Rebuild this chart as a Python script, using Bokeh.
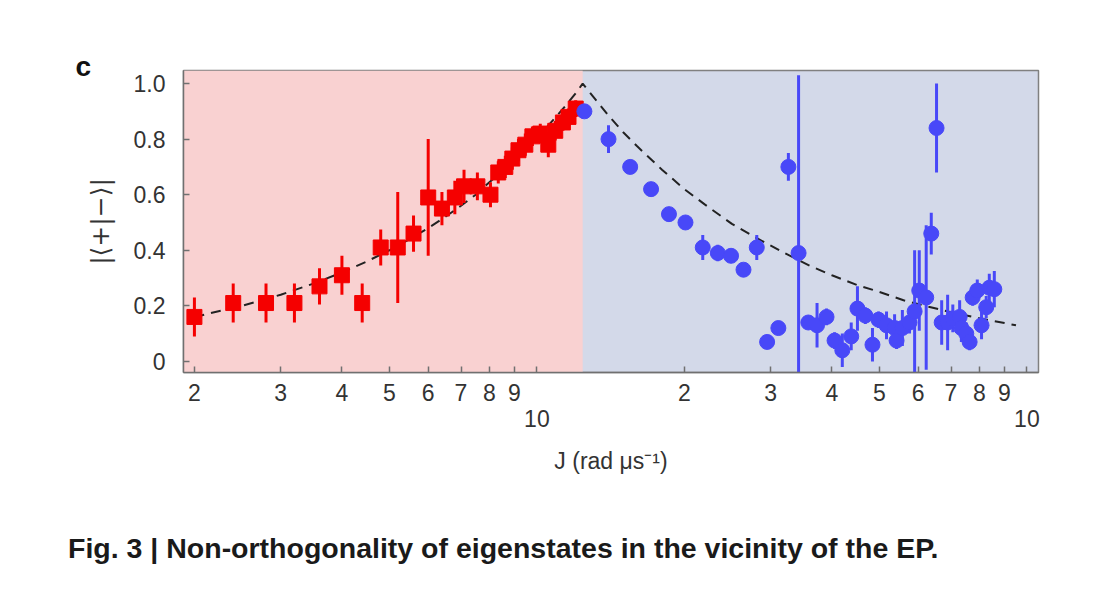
import numpy as np
from bokeh.plotting import figure
from bokeh.models import Range1d, FixedTicker, BoxAnnotation, LogAxis, Div
from bokeh.layouts import column
from bokeh.embed import file_html
from bokeh.resources import INLINE

# ---------------- data ----------------
J_EP = 12.4

J_red = [2.0, 2.4, 2.8, 3.2, 3.6, 4.0, 4.4, 4.8, 5.2, 5.6, 6.0, 6.4, 6.8, 7.1,
         7.56, 8.04, 8.34, 8.62, 8.91, 9.17, 9.47, 9.79, 10.16, 10.55, 10.9,
         11.3, 11.6, 12.0]
v_red = [0.16, 0.21, 0.21, 0.21, 0.27, 0.31, 0.21, 0.41, 0.41, 0.46, 0.59,
         0.55, 0.59, 0.63, 0.63, 0.60, 0.68, 0.70, 0.73, 0.76, 0.78, 0.81,
         0.82, 0.78, 0.83, 0.86, 0.88, 0.91]
e_red = [0.07, 0.07, 0.07, 0.07, 0.065, 0.07, 0.07, 0.065, 0.20, 0.065, 0.21,
         0.06, 0.06, 0.06, 0.05, 0.045, 0.04, 0.04, 0.04, 0.04, 0.04, 0.035,
         0.035, 0.045, 0.035, 0.03, 0.03, 0.03]

J_blue = [12.5, 14.0, 15.5, 17.1, 18.6, 20.1, 21.8, 23.4, 24.9, 26.4,
          28.1, 29.5, 31.1, 32.6, 34.2, 35.8, 37.3, 39.0, 40.5, 42.0,
          43.8, 45.1, 46.8, 48.4, 49.8, 51.7, 53.7, 54.2, 55.7, 57.6,
          59.0, 60.3, 62.3, 63.8, 65.4, 67.0, 68.9, 70.6, 72.9, 73.5,
          75.2, 76.4, 77.5, 79.2, 80.8, 82.6, 83.8, 85.8]
v_blue = [0.90, 0.80, 0.70, 0.62, 0.53, 0.50, 0.41, 0.39, 0.38, 0.33,
          0.41, 0.07, 0.12, 0.70, 0.39, 0.14, 0.13, 0.16, 0.075, 0.04,
          0.09, 0.19, 0.165, 0.06, 0.15, 0.13, 0.12, 0.075, 0.12, 0.14,
          0.18, 0.255, 0.23, 0.46, 0.84, 0.14, 0.14, 0.155, 0.16, 0.12,
          0.10, 0.07, 0.23, 0.255, 0.13, 0.195, 0.265, 0.26]
e_blue = [0.02, 0.05, 0.02, 0.02, 0.02, 0.02, 0.045, 0.03, 0.02, 0.02,
          0.045, 0.02, 0.02, 0.05, 0.64, 0.02, 0.08, 0.03, 0.03, 0.06,
          0.05, 0.08, 0.03, 0.06, 0.03, 0.05, 0.05, 0.03, 0.065, 0.04,
          0.22, 0.145, 0.26, 0.075, 0.16, 0.08, 0.10, 0.05, 0.06, 0.05,
          0.04, 0.03, 0.03, 0.04, 0.05, 0.04, 0.05, 0.065]

# theory (dashed) curve
J_theory = [2.0, 2.5, 3.0, 3.5, 4.0, 4.5, 5.0, 5.5, 6.0, 6.5, 7.0, 7.5, 8.0,
            8.5, 9.0, 9.5, 10.0, 10.5, 11.0, 11.5, 12.0, 12.4,
            13.0, 14.0, 15.0, 16.0, 18.0, 20.0, 22.0, 25.0, 28.0, 32.0, 36.0,
            40.0, 45.0, 50.0, 56.0, 63.0, 70.0, 80.0, 90.0, 95.0]
v_theory = [0.16, 0.20, 0.24, 0.28, 0.32, 0.36, 0.40, 0.44, 0.48, 0.52, 0.56,
            0.60, 0.645, 0.685, 0.725, 0.765, 0.805, 0.845, 0.885, 0.925,
            0.965, 1.0,
            0.955, 0.885, 0.825, 0.775, 0.69, 0.62, 0.565, 0.495, 0.445, 0.39,
            0.345, 0.31, 0.275, 0.25, 0.22, 0.197, 0.177, 0.155, 0.138, 0.13]

x_ticks = [2, 3, 4, 5, 6, 7, 8, 9, 10, 20, 30, 40, 50, 60, 70, 80, 90, 100]
x_tick_labels = ["2", "3", "4", "5", "6", "7", "8", "9", "",
                 "2", "3", "4", "5", "6", "7", "8", "9", ""]
decade_ticks = [10, 100]
decade_labels = ["10", "10"]
y_ticks = [0, 0.2, 0.4, 0.6, 0.8, 1.0]
y_tick_labels = ["0", "0.2", "0.4", "0.6", "0.8", "1.0"]

caption_text = "Fig. 3 | Non-orthogonality of eigenstates in the vicinity of the EP."

# ---------------- figure ----------------
FONT = "Liberation Sans"
TXT = "#333333"

p = figure(width=1099, height=500, x_axis_type="log",
           x_range=Range1d(1.90, 105.6), y_range=Range1d(-0.04, 1.047),
           output_backend="svg", toolbar_location=None,
           min_border_left=183, min_border_right=61,
           min_border_top=70, min_border_bottom=128)
p.background_fill_color = "#d3d9e9"
p.border_fill_color = "white"
p.outline_line_color = "#808080"
p.outline_line_width = 1.5
p.grid.visible = False

p.add_layout(BoxAnnotation(right=J_EP, fill_color="#f9d1d1", fill_alpha=1.0,
                           line_alpha=0, level="underlay"))

# axes
p.xaxis.ticker = FixedTicker(ticks=x_ticks)
p.xaxis.major_label_overrides = {t: l for t, l in zip(x_ticks, x_tick_labels)}
p.yaxis.ticker = FixedTicker(ticks=y_ticks)
p.yaxis.major_label_overrides = {t: l for t, l in zip(y_ticks, y_tick_labels)}

# second (lower) axis carrying the decade labels and the axis title
dec_axis = LogAxis(ticker=FixedTicker(ticks=decade_ticks),
                   major_label_overrides={t: l for t, l in zip(decade_ticks, decade_labels)})
p.add_layout(dec_axis, "below")

for ax in (p.xaxis[0], p.yaxis[0], dec_axis):
    ax.minor_tick_line_color = None
    ax.major_tick_in = 6
    ax.major_tick_out = 0
    ax.major_tick_line_color = "#707070"
    ax.major_tick_line_width = 1.5
    ax.axis_line_color = "#707070"
    ax.axis_line_width = 1.5
    ax.major_label_text_font = FONT
    ax.major_label_text_font_size = "23px"
    ax.major_label_text_color = TXT
    ax.axis_label_text_font = FONT
    ax.axis_label_text_font_size = "23px"
    ax.axis_label_text_font_style = "normal"
    ax.axis_label_text_color = TXT
p.xaxis[0].major_label_standoff = 11
p.yaxis[0].major_label_standoff = 18
p.yaxis[0].axis_label = "|⟨+|−⟩|"
p.yaxis[0].axis_label_text_font = "DejaVu Sans"
p.yaxis[0].axis_label_text_font_size = "25px"
p.yaxis[0].axis_label_standoff = 16

dec_axis.axis_line_color = None
dec_axis.major_tick_line_color = None
dec_axis.major_label_standoff = 6
dec_axis.axis_label = "J (rad μs⁻¹)"
dec_axis.axis_label_standoff = 18

# theory curve
p.line(J_theory, v_theory, line_color="#222222", line_width=2, line_dash="10 7")

# red data
r_lo = np.array(v_red) - np.array(e_red)
r_hi = np.array(v_red) + np.array(e_red)
p.segment(x0=J_red, y0=r_lo, x1=J_red, y1=r_hi, line_color="#f50000", line_width=3)
p.scatter(J_red, v_red, marker="square", size=15, fill_color="#f50000",
          line_color="#f50000")

# blue data
b_lo = np.array(v_blue) - np.array(e_blue)
b_hi = np.array(v_blue) + np.array(e_blue)
p.segment(x0=J_blue, y0=b_lo, x1=J_blue, y1=b_hi, line_color="#4848f8", line_width=3)
p.scatter(J_blue, v_blue, marker="circle", size=15, fill_color="#4848f8",
          line_color="#4848f8")

# panel letter
p.title.text = "c"
p.title.align = "left"
p.title.offset = -108
p.title.standoff = -23
p.title.text_font = FONT
p.title.text_font_size = "28px"
p.title.text_font_style = "bold"
p.title.text_color = "#111111"

# caption
cap = Div(text=caption_text, width=1050, height=40, margin=(31, 0, 0, 68),
          styles={"font-family": "Liberation Sans", "font-size": "28.5px",
                  "font-weight": "bold", "color": "#1a1a1a",
                  "white-space": "nowrap", "line-height": "34px"})

layout = column(p, cap, spacing=0)
open("out.html", "w").write(file_html(layout, INLINE))
